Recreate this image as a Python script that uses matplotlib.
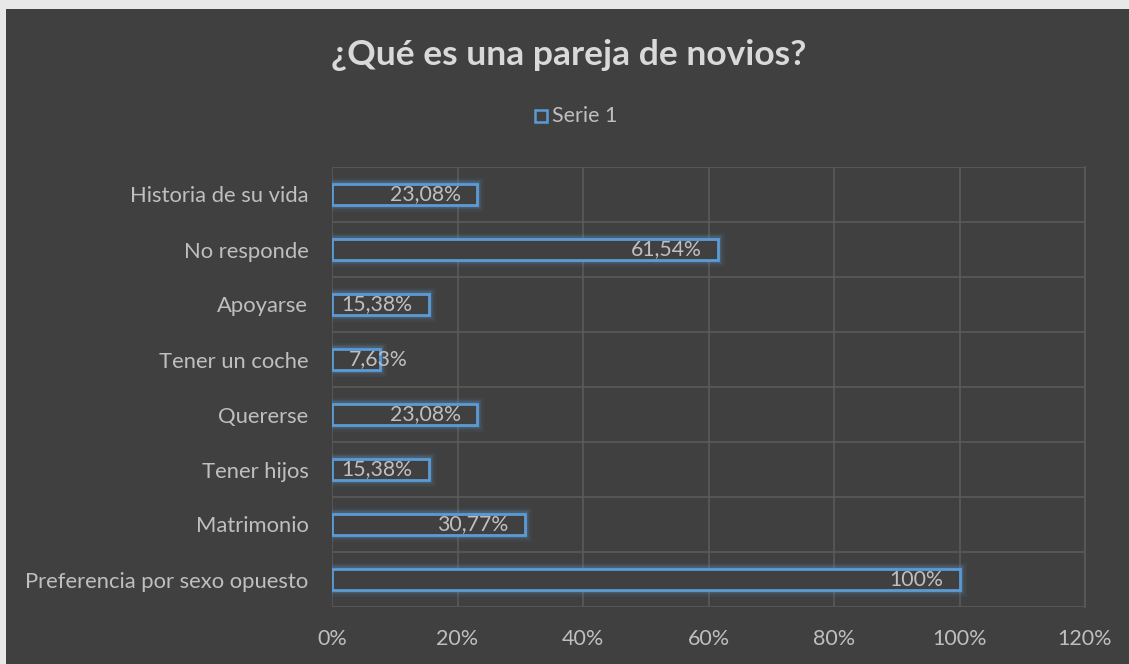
import matplotlib.pyplot as plt
import matplotlib.patheffects as pe
from matplotlib.patches import Rectangle
from matplotlib.ticker import FixedLocator, PercentFormatter

categories = ['Preferencia por sexo opuesto', 'Matrimonio', 'Tener hijos', 'Quererse',
              'Tener un coche', 'Apoyarse', 'No responde', 'Historia de su vida']
values = [100, 30.77, 15.38, 23.08, 7.63, 15.38, 61.54, 23.08]
labels = ['100%', '30,77%', '15,38%', '23,08%', '7,63%', '15,38%', '61,54%', '23,08%']
xticks = [0, 20, 40, 60, 80, 100, 120]

bg = '#404040'
txt = '#BFBFBF'
blue = '#5B9BD5'
grid = '#5a5a5a'
font = 'Lato'

fig = plt.figure(figsize=(11.29, 6.64), dpi=100, facecolor='#e8e8e8')
fig.patches.append(Rectangle((6 / 1129, 0), 1, 1 - 9 / 664, transform=fig.transFigure,
                             facecolor=bg, edgecolor='none', zorder=-5))

ax = fig.add_axes([332 / 1129, 1 - 607 / 664, (1085 - 332) / 1129, (607 - 167) / 664])
ax.set_facecolor(bg)

y = range(len(categories))
glow = [pe.Stroke(linewidth=9, foreground=blue, alpha=0.08),
        pe.Stroke(linewidth=6, foreground=blue, alpha=0.12),
        pe.Stroke(linewidth=4, foreground=blue, alpha=0.2),
        pe.Normal()]
bars = ax.barh(y, values, height=0.38, facecolor=bg, edgecolor=blue, linewidth=2, zorder=3)
for b in bars:
    b.set_path_effects(glow)

for yi, v, lab in zip(y, values, labels):
    if v < 12:
        # label does not fit inside the short bar: start it near the axis
        ax.text(2.7, yi, lab, ha='left', va='center', color=txt, fontsize=15.3,
                family=font, zorder=4)
    else:
        ax.text(v - 2.6, yi, lab, ha='right', va='center', color=txt, fontsize=15.3,
                family=font, zorder=4)

ax.set_xlim(0, 120)
ax.set_ylim(-0.5, len(categories) - 0.5)
ax.xaxis.set_major_locator(FixedLocator(xticks))
ax.xaxis.set_major_formatter(PercentFormatter(decimals=0))
ax.set_yticks(list(y))
ax.set_yticklabels(categories)
ax.yaxis.set_minor_locator(FixedLocator([i - 0.5 for i in range(len(categories) + 1)]))
ax.tick_params(axis='both', which='both', length=0, colors=txt, labelsize=15.5)
ax.tick_params(axis='y', labelsize=15.8, pad=17)
ax.tick_params(axis='x', pad=16)
for t in ax.get_xticklabels() + ax.get_yticklabels():
    t.set_family(font)
ax.grid(axis='x', which='major', color=grid, linewidth=1.2, zorder=0)
ax.grid(axis='y', which='minor', color=grid, linewidth=1.2, zorder=0)
for s in ax.spines.values():
    s.set_visible(False)
ax.spines['right'].set_visible(True)
ax.spines['right'].set_color(grid)
ax.spines['right'].set_linewidth(1.2)

fig.text(569 / 1129, 1 - 55 / 664, '¿Qué es una pareja de novios?', ha='center', va='center',
         color='#D9D9D9', fontsize=25.5, fontweight='bold', family=font)

fig.patches.append(Rectangle((535 / 1129, 1 - 122 / 664), 12 / 1129, 12 / 664,
                             transform=fig.transFigure, facecolor='none',
                             edgecolor=blue, linewidth=1.8, zorder=5))
fig.text(552 / 1129, 1 - 116 / 664, 'Serie 1', ha='left', va='center', color=txt,
         fontsize=15.5, family=font)

fig.savefig('out.png', dpi=100, facecolor=fig.get_facecolor())
